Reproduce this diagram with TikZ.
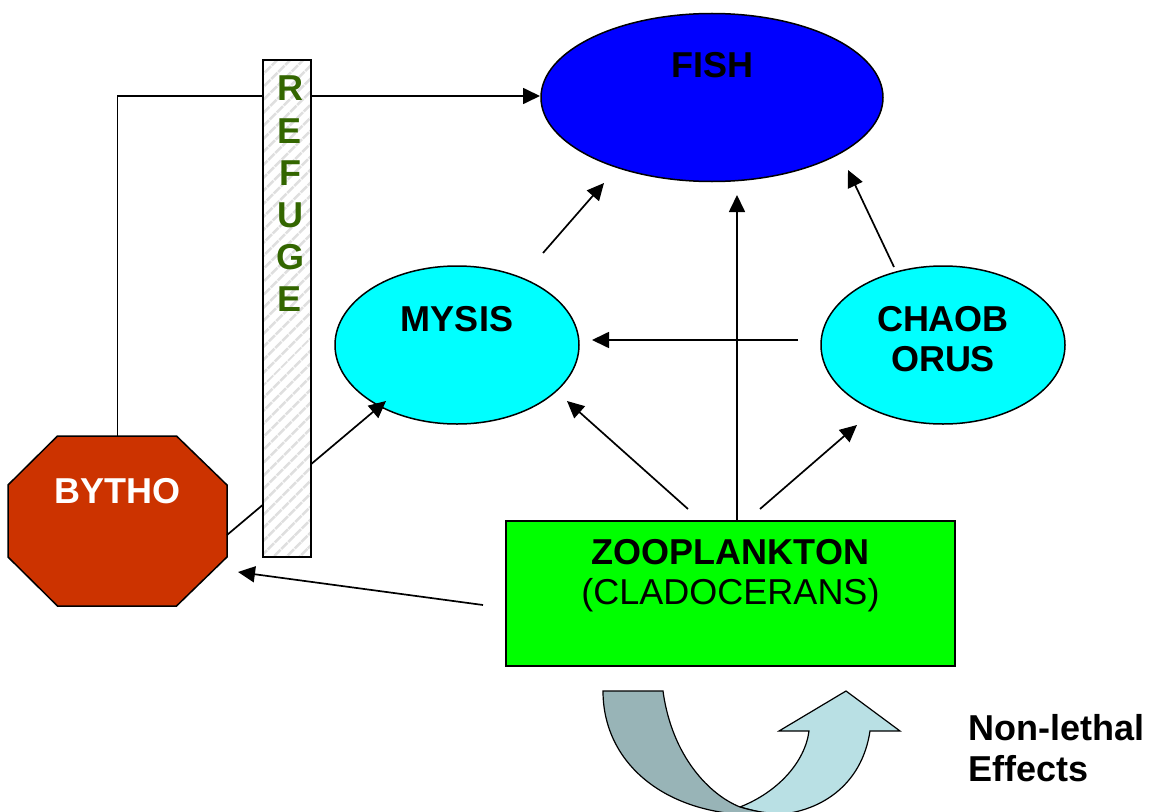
\documentclass[tikz,border=0pt]{standalone}
\usepackage{fontspec}
\setmainfont{Liberation Sans}
\usetikzlibrary{arrows.meta,shapes.geometric,patterns.meta}
\definecolor{bythored}{RGB}{204,51,0}
\definecolor{refgreen}{RGB}{51,102,0}
\definecolor{uturndark}{RGB}{152,180,183}
\definecolor{uturnlight}{RGB}{185,224,228}
\definecolor{ovalcyan}{RGB}{0,255,255}
\definecolor{fishblue}{RGB}{0,0,255}
\definecolor{zoogreen}{RGB}{0,255,0}
\begin{document}
\begin{tikzpicture}[x=1bp,y=-1bp,
  conn/.style={line width=1.7bp, draw=black},
  arr/.style={conn,-{Triangle[length=17bp,width=16bp]}},
  shapeline/.style={draw=black,line width=1.5bp},
  bigtxt/.style={font=\fontsize{36bp}{41.4bp}\selectfont\bfseries, inner sep=0, anchor=base},
  regtxt/.style={font=\fontsize{36bp}{41.4bp}\selectfont, inner sep=0, anchor=base},
  oval/.style={ellipse, shapeline, inner sep=0},
  ]
\useasboundingbox (0,0) rectangle (1149,812);
\clip (0,0) rectangle (1149,812);

% shapes
\node[oval, fill=fishblue, minimum width=342bp, minimum height=168bp] (fish) at (712,97.5) {};
\node[oval, fill=ovalcyan, minimum width=244bp, minimum height=158bp] (mysis) at (457,345) {};
\node[oval, fill=ovalcyan, minimum width=244bp, minimum height=158bp] (chaob) at (943,345) {};
\node[shapeline, fill=zoogreen, minimum width=449bp, minimum height=145bp, inner sep=0] (zoo) at (730.5,593.5) {};
\node[inner sep=0, minimum width=219bp, minimum height=170bp] (bytho) at (117.5,521) {};
\draw[shapeline, fill=bythored] (57.5,436) -- (176.5,436) -- (227,485) -- (227,557) -- (176.5,606) -- (57.5,606) -- (8,557) -- (8,485) -- cycle;

% texts
\node[bigtxt] (fishtxt) at (712,78) {FISH};
\node[bigtxt] (mysistxt) at (457,331) {MYSIS};
\node[bigtxt] (chaobtxt) at (943,331) {CHAOB};
\node[bigtxt] (orustxt) at (943,371) {ORUS};
\node[bigtxt, text=white] (bythotxt) at (117.5,503) {BYTHO};
\node[bigtxt] (zootxt) at (730.5,564) {ZOOPLANKTON};
\node[regtxt] (cladtxt) at (730.5,604) {(CLADOCERANS)};
\node[bigtxt, anchor=base west] (nontxt) at (968,740) {Non-lethal};
\node[bigtxt, anchor=base west] (efftxt) at (968,781) {Effects};

% free connector ends
\coordinate (fishW) at (540,96);
\coordinate (bEast) at (227,535);
\coordinate (mLow) at (386,401);
\coordinate (zLeft) at (483,605);
\coordinate (bTip) at (238,572);
\coordinate (mTop) at (543,253);
\coordinate (fA) at (604,183);
\coordinate (zTop) at (737,521);
\coordinate (fB) at (737,195);
\coordinate (cTop) at (894,267);
\coordinate (fC) at (848,170);
\coordinate (cLeft) at (798,340);
\coordinate (mRight) at (592,340);
\coordinate (zA) at (688,509);
\coordinate (mB) at (567,401);
\coordinate (zB) at (760,509);
\coordinate (cB) at (857,425);

% connectors
\draw[arr] (bytho.north) |- (fishW);
\draw[arr] (bEast) -- (mLow);
\draw[arr] (zLeft) -- (bTip);
\draw[arr] (mTop) -- (fA);
\draw[arr] (zTop) -- (fB);
\draw[arr] (cTop) -- (fC);
\draw[arr] (cLeft) -- (mRight);
\draw[arr] (zA) -- (mB);
\draw[arr] (zB) -- (cB);

% refuge bar (on top of the lines passing behind it)
\node[shapeline, minimum width=48bp, minimum height=497bp, inner sep=0,
  preaction={fill=white},
  pattern={Lines[angle=45,distance=10bp,line width=3bp]}, pattern color=gray!25] (refuge) at (287,308.5) {};
\foreach \l/\y [count=\i] in {R/101,E/143,F/185,U/227,G/269,E/311}
  \node[bigtxt, text=refgreen] (ref\i) at (290,\y) {\l};

% U-turn arrow
\draw[line width=1.2bp, fill=uturnlight] (740,807) .. controls (778,792) and (805,762) .. (809,731)
  -- (779,731) -- (846,691) -- (900,731) -- (870,731)
  .. controls (862,785) and (820,814) .. (770,815) -- cycle;
\draw[line width=1.2bp, fill=uturndark] (603,691) -- (663,691)
  .. controls (672,757) and (710,795) .. (740,807)
  .. controls (760,813) and (775,814) .. (795,815)
  -- (750,815) .. controls (660,812) and (603,760) .. (603,691) -- cycle;
\end{tikzpicture}
\end{document}
